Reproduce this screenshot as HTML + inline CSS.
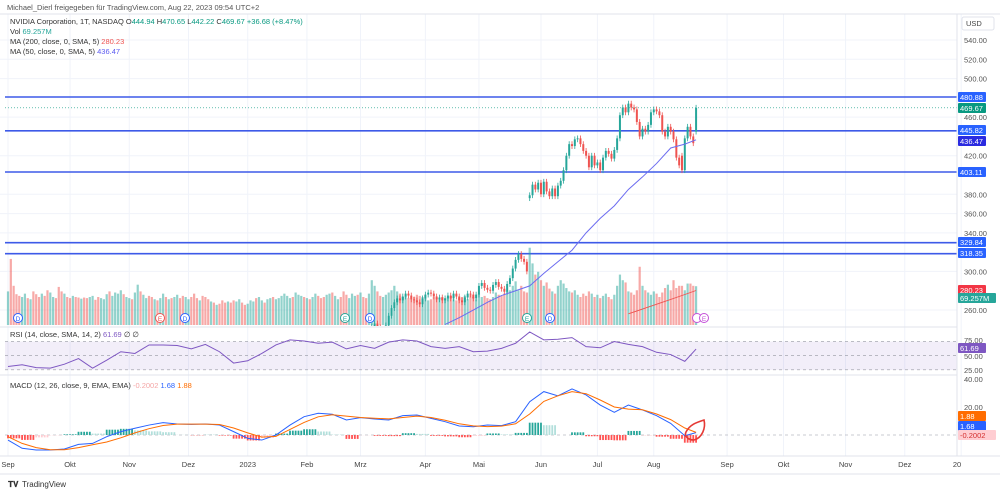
<!DOCTYPE html>
<html><head><meta charset="utf-8">
<style>
html,body{margin:0;padding:0;background:#fff;}
svg{display:block;font-family:"Liberation Sans",sans-serif;}
</style></head>
<body>
<svg id="c" width="1000" height="494" viewBox="0 0 1000 494" xmlns="http://www.w3.org/2000/svg">
<defs>
<clipPath id="mainClip"><rect x="0" y="14" width="957" height="312"/></clipPath>
</defs>
<rect x="0" y="0" width="1000" height="494" fill="#fff"/>
<g id="grid"></g>
<g id="levels"></g>
<g id="vol" clip-path="url(#mainClip)"></g>
<g id="candles" clip-path="url(#mainClip)"></g>
<g id="mas" clip-path="url(#mainClip)"></g>
<g id="rsi"></g>
<g id="macd"></g>
<g id="axes"></g>
<g id="labels"></g>

<text x="7" y="10" font-size="7.5" fill="#555">Michael_Dierl freigegeben für TradingView.com, Aug 22, 2023 09:54 UTC+2</text>
<g font-size="7.5">
<text x="10" y="24" fill="#333">NVIDIA Corporation, 1T, NASDAQ  O<tspan fill="#089981">444.94</tspan>  H<tspan fill="#089981">470.65</tspan>  L<tspan fill="#089981">442.22</tspan>  C<tspan fill="#089981">469.67</tspan>  <tspan fill="#089981">+36.68 (+8.47%)</tspan></text>
<text x="10" y="34" fill="#333">Vol  <tspan fill="#26a69a">69.257M</tspan></text>
<text x="10" y="44" fill="#333">MA (200, close, 0, SMA, 5)  <tspan fill="#ef5350">280.23</tspan></text>
<text x="10" y="54" fill="#333">MA (50, close, 0, SMA, 5)  <tspan fill="#5b5bf0">436.47</tspan></text>
<text x="10" y="337" fill="#333">RSI (14, close, SMA, 14, 2)  <tspan fill="#7e57c2">61.69</tspan>  ∅  ∅</text>
<text x="10" y="388" fill="#333">MACD (12, 26, close, 9, EMA, EMA)  <tspan fill="#f4a6a6">-0.2002</tspan>  <tspan fill="#2962ff">1.68</tspan>  <tspan fill="#ff6d00">1.88</tspan></text>
</g>
<rect x="962" y="17" width="32" height="13" rx="2" fill="#fff" stroke="#e0e3eb"/>
<text x="966" y="26" font-size="7.5" fill="#444">USD</text>
<text x="8" y="487" font-size="8" fill="#333" font-weight="bold">𝐓𝐕</text>
<text x="22" y="487" font-size="8" fill="#333">TradingView</text>
<path d="M686 432 C690 424,698 422,704 420 C706 428,702 438,694 440 C688 440,684 436,686 432" fill="none" stroke="#e53935" stroke-width="1.6"/>
</svg>
<script>
const closes=[139,137,136,132,131,135,137,131,133,130,128,125,131,126,124,127,132,128,125,122,124,121,118,122,121,116,119,115,113,116,118,114,112,120,124,126,125,131,133,135,138,137,140,145,141,156,160,158,162,164,160,157,165,161,168,170,166,172,169,171,173,168,163,170,175,172,168,166,170,165,162,158,160,155,157,152,150,148,152,146,143,146,149,146,143,148,155,160,158,165,170,168,175,178,172,180,185,190,192,195,198,190,194,210,215,212,218,214,220,226,221,216,210,215,222,220,225,232,230,228,226,230,232,235,230,236,234,232,240,243,246,242,238,240,244,
254,262,268,272,270,274,277,275,271,270,268,266,272,276,278,277,274,271,273,270,272,275,272,277,274,270,268,273,277,276,272,276,285,288,283,281,280,286,289,284,282,279,287,293,303,312,318,313,310,300,379,390,385,392,380,393,383,378,386,378,389,394,405,420,432,430,437,438,432,425,420,408,420,410,413,405,418,425,422,417,426,438,462,470,465,474,470,468,455,440,448,445,452,465,468,466,462,445,440,450,445,437,418,410,405,438,450,440,433,469.67];
const gapOpens={185:376,239:420,244:444.94};
const volumes=[60,118,70,55,52,50,56,48,46,60,55,50,56,52,62,58,50,48,68,60,56,50,48,52,50,49,47,49,48,50,52,45,50,48,46,55,60,52,58,56,62,55,50,48,46,58,72,60,54,48,52,50,46,44,48,56,50,46,48,50,54,48,52,50,46,50,56,48,44,52,50,46,42,40,36,38,44,40,42,40,44,42,46,40,36,38,44,42,48,50,44,40,46,48,50,46,48,52,56,52,48,50,58,54,52,50,48,46,50,56,52,48,50,54,56,58,52,46,50,60,54,48,56,52,54,58,50,48,56,80,70,60,52,50,54,58,62,70,60,56,50,52,48,46,50,54,52,50,48,44,46,50,48,46,50,48,50,52,46,44,48,50,52,46,54,50,46,56,50,52,48,46,50,58,54,52,56,60,62,70,78,62,70,60,58,138,110,90,95,80,70,76,65,60,56,70,80,74,66,60,58,62,54,50,56,52,60,56,50,54,48,52,56,50,46,54,70,90,80,76,60,58,54,62,104,70,62,58,54,60,56,50,58,66,72,62,80,66,70,70,62,74,74,70,69.26];
const ma50=[245,252,260,268,275,280,285,298,310,322,340,355,368,385,398,412,428,432,436.47];
const ma50Start=155;
const ma200=[256,262,268,274,280.23];
const ma200Start=220;
const rsiVals=[31,34,29,28,35,45,28,42,57,54,69,69,68,62,70,57,37,41,54,69,78,76,72,74,62,68,63,74,78,76,66,63,66,57,58,63,72,92,78,79,82,66,64,75,70,66,56,52,40,61.69];
const macdVals=[-3.6,-9.5,-10.7,-10.7,-10,-6.7,-6,-1.2,2.4,4.8,7.1,8.8,7.9,7.6,7.9,7.1,2.4,-2.4,-3.6,0,7.1,13.1,15.5,14.8,10.7,12.4,11.4,10.7,13.8,14.3,11.9,9.5,6.4,5.9,7.1,6.7,9.5,23.8,31,28,32.9,28.6,21.4,16.2,21.4,17.9,13.8,8.3,-0.5,1.68];
const signalVals=[-1.2,-6,-9,-10.5,-10.5,-9,-7,-5,-2,1.5,4.5,6.8,7.8,7.8,7.8,7.5,5,1.5,-1.5,-1,4,9,13,14.5,13.5,12.5,12,11.5,12.5,13.5,12.5,10.5,8,6.5,6,6.3,8,15,24,28,31,29.5,25,20,18.5,18,15,11,5,1.88];
const sampleStep=5;
const levels=[480.88,445.82,403.11,329.84,318.35];
const priceTicks=[540,520,500,460,420,380,360,340,300,260];
const months=["Sep","Okt","Nov","Dez","2023","Feb","Mrz","Apr","Mai","Jun","Jul","Aug","Sep","Okt","Nov","Dez","20"];
const monthBars=[0,22,43,64,85,106,125,148,167,189,209,229,255,275,297,318,338];

const NS="http://www.w3.org/2000/svg";
const px=i=>8+i*2.82;
const py=p=>40+(540-p)*0.9643;
const vy=v=>325-v*0.56;
const ry=v=>355.7-(v-50)*0.566;
const my=v=>435-v*1.4;
function mk(tag,attrs,parent){const e=document.createElementNS(NS,tag);for(const k in attrs)e.setAttribute(k,attrs[k]);document.getElementById(parent).appendChild(e);return e;}
const sIdx=k=>k===rsiVals.length-1?244:k*sampleStep;

monthBars.forEach((b,k)=>{const l=mk('line',{x1:px(b),x2:px(b),y1:14,y2:456,stroke:'#f0f3fa','stroke-width':1},'grid');


const t=mk('text',{x:px(b),y:467,'font-size':7.5,fill:'#444','text-anchor':k===16?'end':'middle'},'axes');t.textContent=months[k];

});
priceTicks.forEach(p=>{const l=mk('line',{x1:0,x2:957,y1:py(p),y2:py(p),stroke:'#f0f3fa'},'grid');


const t=mk('text',{x:964,y:py(p)+3,'font-size':7.5,fill:'#555'},'axes');t.textContent=p.toFixed(2);

});
[[0,327,957,327],[0,375,957,375],[0,456,1000,456],[957,14,957,456],[0,14,1000,14],[0,474,1000,474]].forEach(a=>{const l=mk('line',{x1:a[0],y1:a[1],x2:a[2],y2:a[3],stroke:'#e0e3eb'},'axes');

});

levels.forEach(v=>{const l=mk('line',{x1:5,x2:957,y1:py(v),y2:py(v),stroke:'#3d5ae8','stroke-width':1.6},'levels');

});
const cl=mk('line',{x1:5,x2:957,y1:py(469.67),y2:py(469.67),stroke:'#089981','stroke-width':0.6,'stroke-dasharray':'1 2'},'levels');



closes.forEach((c,i)=>{
 const o=gapOpens[i]!==undefined?gapOpens[i]:(i>0?closes[i-1]:c);
 const up=c>=o;
 const v=volumes[i]||0;
 const r=mk('rect',{x:px(i)-1.1,y:vy(v),width:2.2,height:325-vy(v),fill:up?'rgba(38,166,154,0.5)':'rgba(239,83,80,0.5)'},'vol');
 
 
 const col=up?'#26a69a':'#ef5350';
 const hi=Math.max(o,c)+3, lo=Math.min(o,c)-3;
 const w=mk('line',{x1:px(i),x2:px(i),y1:py(hi),y2:py(lo),stroke:col,'stroke-width':0.8},'candles');
 
 
 const b=mk('rect',{x:px(i)-1,y:py(Math.max(o,c)),width:2,height:Math.max(0.8,Math.abs(py(o)-py(c))),fill:col},'candles');
 
 
});
function poly(vals,start,step,fy,color,parent,name,w){const pts=vals.map((v,k)=>{const i=Math.min(244,start+k*step);return px(i)+','+fy(v);}).join(' ');
 const p=mk('polyline',{points:pts,fill:'none',stroke:color,'stroke-width':w||1},parent);
 
 }
poly(ma50,ma50Start,5,py,'#6c6cf0','mas','ma50-line');
poly(ma200,ma200Start,6,py,'#ef5350','mas','ma200-line',0.9);

[[18,'D','#2962ff'],[185,'D','#2962ff'],[370,'D','#2962ff'],[550,'D','#2962ff'],[160,'E','#ef5350'],[345,'E','#26a69a'],[527,'E','#26a69a'],[697,'','#c44fd9'],[704,'E','#c44fd9']].forEach(m=>{
 const g=mk('circle',{cx:m[0],cy:318,r:4.5,fill:'#fff',stroke:m[2],'stroke-width':1},'axes');
 
 
 const t=mk('text',{x:m[0],y:321,'font-size':6.5,fill:m[2],'text-anchor':'middle'},'axes');t.textContent=m[1];
 
 });

const band=mk('rect',{x:5,y:ry(75),width:952,height:ry(25)-ry(75),fill:'rgba(126,87,194,0.1)'},'rsi');


[75,50,25].forEach(v=>{const l=mk('line',{x1:5,x2:957,y1:ry(v),y2:ry(v),stroke:'#9598a1','stroke-width':0.6,'stroke-dasharray':'3 3'},'rsi');

});
const rp=rsiVals.map((v,k)=>px(sIdx(k))+','+ry(v)).join(' ');
const rl=mk('polyline',{points:rp,fill:'none',stroke:'#7e57c2','stroke-width':1},'rsi');


[[75,340],[50,356],[25,370]].forEach(a=>{const t=mk('text',{x:964,y:a[1]+3,'font-size':7.5,fill:'#555'},'axes');t.textContent=a[0].toFixed(2);

});

const z=mk('line',{x1:5,x2:957,y1:my(0),y2:my(0),stroke:'#9598a1','stroke-width':0.6,'stroke-dasharray':'3 3'},'macd');


macdVals.forEach((m,k)=>{const h=m-signalVals[k];const prev=k>0?macdVals[k-1]-signalVals[k-1]:h;
 const col=h>=0?(h>=prev?'#26a69a':'#b2dfdb'):(h<=prev?'#ff5252':'#ffcdd2');
 const i0=sIdx(k);
 for(let j=0;j<5&&i0+j<=244;j++){const i=i0+j;const r=mk('rect',{x:px(i)-0.9,y:Math.min(my(0),my(h)),width:1.8,height:Math.abs(my(h)-my(0)),fill:col},'macd');
 
 }});
const mp=macdVals.map((v,k)=>px(sIdx(k))+','+my(v)).join(' ');
const ml=mk('polyline',{points:mp,fill:'none',stroke:'#2962ff','stroke-width':1},'macd');


const sp=signalVals.map((v,k)=>px(sIdx(k))+','+my(v)).join(' ');
const sl=mk('polyline',{points:sp,fill:'none',stroke:'#ff6d00','stroke-width':1},'macd');


[[40,379],[20,407]].forEach(a=>{const t=mk('text',{x:964,y:a[1]+3,'font-size':7.5,fill:'#555'},'axes');t.textContent=a[0].toFixed(2);

});

[[97,'480.88','#2962ff'],[108,'469.67','#089981'],[130,'445.82','#2962ff'],[141,'436.47','#2b2be0'],[172,'403.11','#2962ff'],[242,'329.84','#2962ff'],[253,'318.35','#2962ff'],[290,'280.23','#f23645'],[298,'69.257M','#26a69a'],[348,'61.69','#7e57c2'],[416,'1.88','#ff6d00'],[426,'1.68','#2962ff'],[435,'-0.2002','#ffcdd2']].forEach(a=>{
 const r=mk('rect',{x:958,y:a[0]-5,width:a[1].length>6?38:28,height:10,fill:a[2],rx:1},'labels');
 
 
 const t=mk('text',{x:960,y:a[0]+3,'font-size':7.5,fill:a[2]==='#ffcdd2'?'#d32f2f':'#fff'},'labels');t.textContent=a[1];
 
 });
</script>
</body></html>
